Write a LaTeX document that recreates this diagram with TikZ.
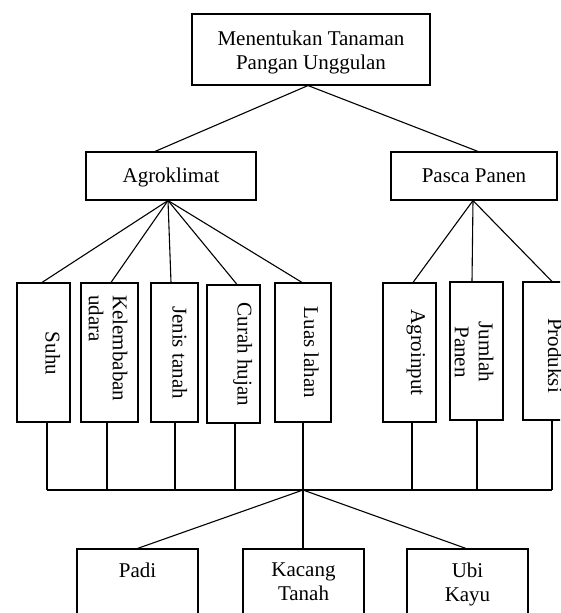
\documentclass[tikz,border=0pt]{standalone}
\usepackage{fontspec}
\setmainfont{Liberation Serif}
\begin{document}
\begin{tikzpicture}[x=1pt,y=-1pt,
  every node/.style={font=\fontsize{21}{24}\selectfont, inner sep=0pt},
  rbox/.style n args={2}{draw, line width=1.1pt, minimum width=#1pt, minimum height=#2pt, inner sep=0pt},
  vtext/.style={rotate=-90, anchor=base},
  conn/.style={line width=1.1pt}]
\useasboundingbox (0,0) rectangle (560,613);
\clip (0,0) rectangle (560,613);
% top level
\node[rbox={238}{71}] (top) at (311,49.5) {};
\node[anchor=north, align=center] (toptxt) at (311,31) {Menentukan Tanaman\\Pangan Unggulan};
% second level
\node[rbox={170}{48}] (agro) at (171,176) {};
\node[anchor=base] (agrotxt) at (171,182) {Agroklimat};
\node[rbox={166}{48}] (pasca) at (474,176) {};
\node[anchor=base] (pascatxt) at (474,182) {Pasca Panen};
% vertical boxes
\node[rbox={53}{139}] (suhu) at (43.5,352.5) {};
\node[vtext] (suhutxt) at (45.5,353.5) {Suhu};
\node[rbox={57}{139}] (kel) at (109.5,352.5) {};
\node[rotate=-90, anchor=west, align=left] (keltxt) at (108,295) {Kelembaban\\udara};
\node[rbox={47}{139}] (jenis) at (174.5,352.5) {};
\node[vtext] (jenistxt) at (172.5,352.5) {Jenis tanah};
\node[rbox={53}{138}] (curah) at (233.5,354) {};
\node[vtext] (curahtxt) at (237.5,354.5) {Curah hujan};
\node[rbox={56}{139}] (luas) at (303,352.5) {};
\node[vtext] (luastxt) at (304,352.5) {Luas lahan};
\node[rbox={53}{139}] (agroin) at (409.5,352.5) {};
\node[vtext] (agrointxt) at (411,352.5) {Agroinput};
\node[rbox={53}{138}] (jumlah) at (476.5,351) {};
\node[rotate=-90, anchor=center, align=center] (jumlahtxt) at (474,352) {Jumlah\\Panen};
\node[rbox={55}{138}] (prod) at (550.5,351) {};
\node[vtext] (prodtxt) at (548,355.5) {Produksi};
% bottom boxes
\node[rbox={121}{100}] (padi) at (137.5,599) {};
\node[anchor=north] (paditxt) at (137.5,562.7) {Padi};
\node[rbox={121}{100}] (kacang) at (303.5,599) {};
\node[anchor=north, align=center] (kacangtxt) at (303.5,562.7) {Kacang\\Tanah};
\node[rbox={121}{100}] (ubi) at (467.5,599) {};
\node[anchor=north, align=center] (ubitxt) at (467.5,562.7) {Ubi\\Kayu};
% connectors top
\coordinate (topA) at ([xshift=-3pt]top.south);
\draw[conn] ([xshift=-16pt]agro.north) -- (topA) -- ([xshift=4pt]pasca.north);
\coordinate (agroA) at ([xshift=-3pt]agro.south);
\draw[conn] (agroA) -- ([xshift=-1.5pt]suhu.north);
\draw[conn] (agroA) -- ([xshift=1.5pt]kel.north);
\draw[conn] (agroA) -- ([xshift=-3.5pt]jenis.north);
\draw[conn] (agroA) -- ([xshift=3.5pt]curah.north);
\draw[conn] (agroA) -- ([xshift=-1pt]luas.north);
\coordinate (pascaA) at ([xshift=-1pt]pasca.south);
\draw[conn] (pascaA) -- ([xshift=3.5pt]agroin.north);
\draw[conn] (pascaA) -- ([xshift=-4.5pt]jumlah.north);
\draw[conn] (pascaA) -- ([xshift=1.5pt]prod.north);
% bus
\coordinate (bus) at (303,490);
\coordinate (b1) at ([xshift=3.5pt]suhu.south);
\coordinate (b2) at ([xshift=-2.5pt]kel.south);
\coordinate (b3) at ([xshift=0.5pt]jenis.south);
\coordinate (b4) at ([xshift=1.5pt]curah.south);
\coordinate (b5) at (luas.south);
\coordinate (b6) at ([xshift=2.5pt]agroin.south);
\coordinate (b7) at ([xshift=0.5pt]jumlah.south);
\coordinate (b8) at ([xshift=1.5pt]prod.south);
\foreach \b in {b1,b2,b3,b4,b5,b6,b7,b8} {
  \draw[conn] (\b) -- (\b |- bus);
}
\draw[conn] (b1 |- bus) -- (b8 |- bus);
% bottom connectors
\draw[conn] (bus) -- (padi.north);
\draw[conn] (bus) -- (bus |- kacang.north);
\draw[conn] (bus) -- ([xshift=-1.5pt]ubi.north);
\end{tikzpicture}
\end{document}
